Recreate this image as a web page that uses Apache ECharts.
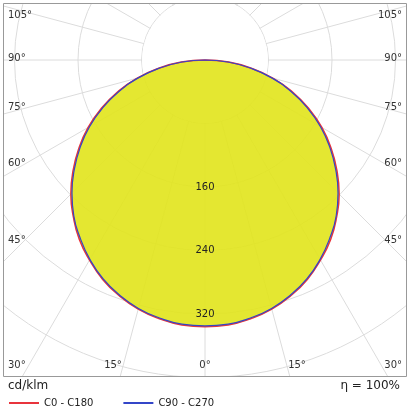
<!DOCTYPE html>
<html>
<head>
<meta charset="utf-8">
<script src="https://cdn.jsdelivr.net/npm/echarts@6/dist/echarts.min.js"></script>
<style>html,body{margin:0;padding:0;background:#fff}#c{width:410px;height:410px}</style>
</head>
<body>
<div id="c"></div>
<script>
// gamma angles (deg) and luminous intensity (cd/klm)
var gammas = [-90, -85, -80, -75, -70, -65, -60, -55, -50, -45, -40, -35, -30, -25, -20, -15, -10, -5, 0,
	5, 10, 15, 20, 25, 30, 35, 40, 45, 50, 55, 60, 65, 70, 75, 80, 85, 90];
var c0c180 = [0, 30, 59, 89, 117, 144, 170, 194, 217, 239, 258, 276, 291, 305, 316, 325, 331, 335, 336,
	335, 331, 325, 316, 305, 291, 276, 258, 239, 217, 194, 170, 144, 117, 89, 59, 30, 0];
var c90c270 = [0, 29, 58, 87, 115, 142, 168, 192, 215, 237, 257, 274, 290, 304, 315, 324, 330, 334, 335,
	334, 330, 324, 315, 304, 290, 274, 257, 237, 215, 192, 168, 142, 115, 87, 58, 29, 0];
var ringLabels = [160, 240, 320];
var angleLabelsLeft = ['105°', '90°', '75°', '60°', '45°', '30°'];
var angleLabelsBottom = ['15°', '0°', '15°', '30°'];

var myChart = echarts.init(document.getElementById('c'));
var font = 'DejaVu Sans';

function toPolar(vals) {
	var out = [];
	for (var i = 0; i < gammas.length; i++) {
		out.push([vals[i], (gammas[i] + 360) % 360]);
	}
	return out;
}

var option = {
	animation: false,
	textStyle: { fontFamily: font },
	polar: { center: [205, 60], radius: 381 },
	angleAxis: {
		type: 'value', min: 0, max: 360, interval: 15, startAngle: 270, clockwise: false,
		axisLine: { show: false }, axisTick: { show: false }, axisLabel: { show: false },
		splitLine: { lineStyle: { color: '#dcdcdc', width: 1 } }
	},
	radiusAxis: {
		type: 'value', min: 0, max: 480, interval: 80,
		axisLine: { show: false }, axisTick: { show: false }, axisLabel: { show: false },
		splitLine: { lineStyle: { color: '#dcdcdc', width: 1 } }
	},
	legend: {
		left: 4, top: 393, itemWidth: 30, itemHeight: 2, itemGap: 30, icon: 'rect', z: 60,
		textStyle: { fontFamily: font, fontSize: 10, color: '#222' },
		data: ['C0 - C180', 'C90 - C270']
	},
	series: [{
		name: 'C0 - C180', type: 'line', coordinateSystem: 'polar', symbol: 'none', smooth: true,
		data: toPolar(c0c180), z: 3,
		lineStyle: { color: '#e8343c', width: 1.5 }, itemStyle: { color: '#e8343c' },
		areaStyle: { color: '#e2e51f', opacity: 0.92 }
	}, {
		name: 'C90 - C270', type: 'line', coordinateSystem: 'polar', symbol: 'none', smooth: true,
		data: toPolar(c90c270), z: 4,
		lineStyle: { color: '#3446c8', width: 1.2 }, itemStyle: { color: '#3446c8' }
	}]
};
myChart.setOption(option);

var g = [
	{ type: 'circle', shape: { cx: 205, cy: 60, r: 63 }, style: { fill: '#fff' }, z: 1 },
	// mask outside of frame
	{ type: 'rect', shape: { x: 0, y: 377, width: 410, height: 33 }, style: { fill: '#fff' }, z: 50 },
	{ type: 'rect', shape: { x: 0, y: 0, width: 3, height: 410 }, style: { fill: '#fff' }, z: 50 },
	{ type: 'rect', shape: { x: 407, y: 0, width: 3, height: 410 }, style: { fill: '#fff' }, z: 50 },
	{ type: 'rect', shape: { x: 0, y: 0, width: 410, height: 3 }, style: { fill: '#fff' }, z: 50 },
	{ type: 'rect', shape: { x: 3.5, y: 3.5, width: 403, height: 373 }, style: { fill: 'none', stroke: '#999', lineWidth: 1 }, z: 51 },
	{ type: 'text', left: 8, top: 380, style: { text: 'cd/klm', font: '12px ' + font, fill: '#222' }, z: 52 },
	{ type: 'text', right: 10, top: 380, style: { text: 'η = 100%', font: '12px ' + font, fill: '#222' }, z: 52 }
];
var leftY = [16, 59, 108, 164, 241, 366];
for (var i = 0; i < angleLabelsLeft.length; i++) {
	g.push({ type: 'text', x: 8, y: leftY[i] - 6, style: { text: angleLabelsLeft[i], font: '10px ' + font, fill: '#333' }, z: 52 });
	g.push({ type: 'text', x: 402, y: leftY[i] - 6, style: { text: angleLabelsLeft[i], font: '10px ' + font, fill: '#333', align: 'right' }, z: 52 });
}
var bottomX = [113, 205, 297];
for (var j = 0; j < 3; j++) {
	g.push({ type: 'text', x: bottomX[j], y: 360, style: { text: angleLabelsBottom[j], font: '10px ' + font, fill: '#333', align: 'center' }, z: 52 });
}
for (var k = 0; k < ringLabels.length; k++) {
	var p = myChart.convertToPixel({ polarIndex: 0 }, [ringLabels[k], 0]);
	g.push({ type: 'text', x: p[0], y: p[1], style: { text: String(ringLabels[k]), font: '10px ' + font, fill: '#222', align: 'center', verticalAlign: 'middle' }, z: 52 });
}
myChart.setOption({ graphic: g });
</script>
</body>
</html>
